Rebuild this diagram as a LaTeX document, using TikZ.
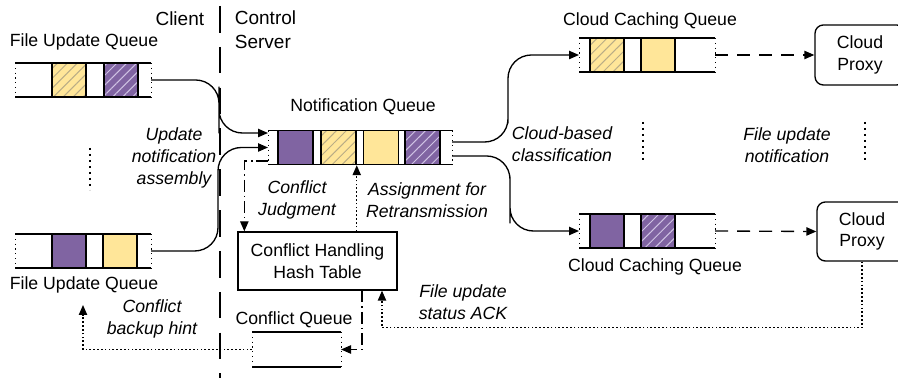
\documentclass[tikz,border=0pt]{standalone}
\usepackage{fontspec}
\setmainfont{Liberation Sans}
\usepackage{tikz}
\usetikzlibrary{positioning, arrows.meta, calc, patterns.meta}
\usepackage{xcolor}
\definecolor{qyellow}{HTML}{FFE699}
\definecolor{qpurple}{HTML}{8064A2}
\definecolor{hatchyellow}{HTML}{B9AC86}
\definecolor{hatchpurple}{HTML}{CFC3E3}
\newcommand{\px}{0.6pt}
% top/bottom rails and dotted open ends of a queue
\newcommand{\qlines}[1]{%
  \draw[line width=1.1pt] (#1.north west) -- (#1.north east)
                          (#1.south west) -- (#1.south east);
  \draw[line width=0.6pt, dash pattern=on 0.7pt off 2.2pt]
    (#1.north west) -- (#1.south west)
    (#1.north east) -- (#1.south east);
}

\begin{document}
\begin{tikzpicture}[x=0.6pt, y=-0.6pt, font=\fontsize{10.6}{13}\selectfont,
  queue/.style={minimum height=34*\px, inner sep=0pt, outer sep=0pt},
  cell/.style={draw, line width=0.9pt, minimum width=34*\px, minimum height=34*\px, inner sep=0pt},
  ycell/.style={cell, fill=qyellow},
  pcell/.style={cell, fill=qpurple},
  hatch/.style={postaction={pattern={Lines[angle=45, distance=4.2pt, line width=0.6pt]}, pattern color=#1},
                postaction={draw, line width=0.9pt}},
  conn/.style={line width=0.8pt, -{Triangle[length=6pt, width=5pt]}},
  dotconn/.style={conn, dash pattern=on 1pt off 1.3pt},
  dashconn/.style={conn, dash pattern=on 7.8pt off 5.4pt},
  dotdashconn/.style={conn, dash pattern=on 7pt off 2.5pt on 0.8pt off 2.5pt},
  vdots/.style={line width=1.3pt, dash pattern=on 1.3pt off 2.3pt},
  note/.style={font=\fontsize{10.6}{13}\selectfont\itshape, align=center},
  box/.style={draw, line width=0.8pt, align=center, inner sep=2pt}]

  \clip (0,0) rectangle (898,378);

  % Client / server divider
  \draw[line width=1.2pt, dash pattern=on 16pt off 8.5pt] (220,6) -- (220,378);
  \node[anchor=east, font=\fontsize{11.4}{14.4}\selectfont] (client) at (210,19) {Client};
  \node[anchor=north west, align=left, font=\fontsize{11.4}{14.4}\selectfont] (server) at (229,5) {Control\\Server};

  % File update queues (client)
  \node[queue, minimum width=136*\px] (fuqA) at (83,80) {};
  \node[ycell, hatch=hatchyellow] (fuqA1) at (69,80) {};
  \node[pcell, hatch=hatchpurple] (fuqA2) at (121,80) {};
  \qlines{fuqA}
  \node (fuqAlabel) at (84,42) {File Update Queue};

  \node[queue, minimum width=136*\px] (fuqB) at (83,251) {};
  \node[pcell] (fuqB1) at (69,251) {};
  \node[ycell] (fuqB2) at (120,251) {};
  \qlines{fuqB}
  \node (fuqBlabel) at (84,285) {File Update Queue};

  \draw[vdots] (90,148) -- (90,190);
  \node[note] (assembly) at (174,158) {Update\\notification\\assembly};

  % Notification queue
  \node[queue, minimum width=184*\px] (nq) at (360,147.5) {};
  \node[pcell, minimum width=35*\px] (nq1) at (295.5,147.5) {};
  \node[ycell, minimum width=35*\px, hatch=hatchyellow] (nq2) at (338.5,147.5) {};
  \node[ycell, minimum width=35*\px] (nq3) at (381,147.5) {};
  \node[pcell, minimum width=35*\px, hatch=hatchpurple] (nq4) at (422.5,147.5) {};
  \qlines{nq}
  \node (nqlabel) at (363,107) {Notification Queue};

  \coordinate (nqin) at (268,133);
  \coordinate (nqjud) at (268,161);
  \coordinate (nqoutA) at (452,142);
  \coordinate (nqoutB) at (452,156);

  % Conflict handling
  \node[box, minimum width=159*\px, minimum height=58*\px] (hash) at (317.5,261) {Conflict Handling\\Hash Table};

  \node[queue, minimum width=89*\px, minimum height=35*\px] (cq) at (296.5,349.5) {};
  \qlines{cq}
  \node (cqlabel) at (294,320) {Conflict Queue};

  \node[note] (judgment) at (297,200) {Conflict\\Judgment};
  \node[note] (assign) at (427,200) {Assignment for\\Retransmission};
  \node[note] (ack) at (463,302) {File update\\status ACK};
  \node[note] (hint) at (152,319) {Conflict\\backup hint};
  \coordinate (hintend) at (83,305);

  % Cloud caching queues
  \node[queue, minimum width=136*\px] (ccqA) at (647,55) {};
  \node[ycell, hatch=hatchyellow] (ccqA1) at (607,55) {};
  \node[ycell] (ccqA2) at (658,55) {};
  \qlines{ccqA}
  \node (ccqAlabel) at (650,21) {Cloud Caching Queue};

  \node[queue, minimum width=136*\px] (ccqB) at (647,231) {};
  \node[pcell] (ccqB1) at (607,231) {};
  \node[pcell, hatch=hatchpurple] (ccqB2) at (658,231) {};
  \qlines{ccqB}
  \node (ccqBlabel) at (655,267) {Cloud Caching Queue};

  \draw[vdots] (643,122) -- (643,162);
  \node[note] (classify) at (562,144) {Cloud-based\\classification};

  % Cloud proxies
  \node[box, rounded corners=5pt, minimum width=90*\px, minimum height=60*\px] (proxyA) at (860,55) {Cloud\\Proxy};
  \node[box, rounded corners=5pt, minimum width=90*\px, minimum height=59*\px] (proxyB) at (862,231.5) {Cloud\\Proxy};

  \draw[vdots] (865,122) -- (865,162);
  \node[note] (notify) at (787,145) {File update\\notification};

  % Connectors
  \draw[conn, rounded corners=14pt] (fuqA.east) -| (219,110) |- (nqin);
  \draw[conn, rounded corners=14pt] (fuqB.east) -| (218,200) |- (nq.west);
  \draw[conn, rounded corners=14pt] (nqoutA) -| (508,100) |- (ccqA.west);
  \draw[conn, rounded corners=14pt] (nqoutB) -| (510,200) |- (ccqB.west);

  \draw[dashconn] (ccqA.east) -- (proxyA.west);
  \draw[dashconn] (ccqB.east) -- (proxyB.west);

  \draw[dotdashconn] (nqjud) -- ++(-16,0) -| ([xshift=7*\px]hash.north west);
  \draw[dotconn] (hash.north -| nq2.south east) -- (nq2.south east);
  \draw[dotdashconn] ([xshift=44.5*\px]hash.south) |- (cq.east);
  \draw[dotconn] (proxyB.south) -- ++(0,66) -| ([xshift=64.5*\px]hash.south);
  \draw[dotconn] (cq.west) -| (hintend);
\end{tikzpicture}
\end{document}
